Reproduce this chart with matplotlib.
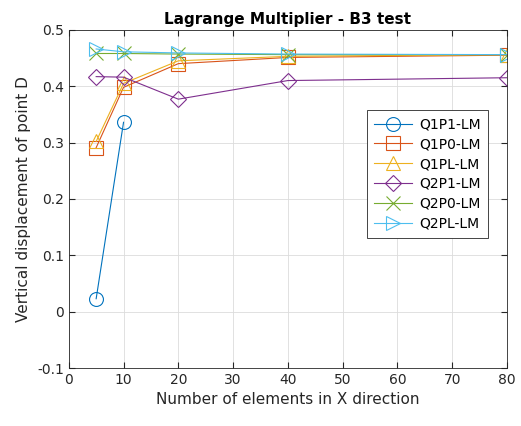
import matplotlib.pyplot as plt

n_elem = [5, 10, 20, 40, 80]
q1p1 = [0.023, 0.336]
q1p0 = [0.291, 0.398, 0.440, 0.451, 0.455]
q1pl = [0.302, 0.405, 0.445, 0.453, 0.456]
q2p1 = [0.417, 0.416, 0.377, 0.410, 0.415]
q2p0 = [0.458, 0.458, 0.457, 0.456, 0.456]
q2pl = [0.466, 0.461, 0.459, 0.457, 0.456]

labels = ["Q1P1-LM", "Q1P0-LM", "Q1PL-LM", "Q2P1-LM", "Q2P0-LM", "Q2PL-LM"]
colors = ["#0072BD", "#D95319", "#EDB120", "#7E2F8E", "#77AC30", "#4DBEEE"]
markers = ["o", "s", "^", "D", "x", ">"]

fig = plt.figure(figsize=(5.21, 4.26), dpi=100)
ax = fig.add_axes([0.132, 0.136, 0.841, 0.794])

series = [q1p1, q1p0, q1pl, q2p1, q2p0, q2pl]
for ys, lab, c, m in zip(series, labels, colors, markers):
    ms = 8 if m == "D" else 10
    ax.plot(n_elem[:len(ys)], ys, marker=m, color=c, label=lab, linewidth=0.8,
            markersize=ms, markerfacecolor="none", markeredgewidth=0.8)

ax.set_xlim(0, 80)
ax.set_ylim(-0.1, 0.5)
ax.set_xticks(range(0, 81, 10))
ax.set_yticks([-0.1, 0, 0.1, 0.2, 0.3, 0.4, 0.5])
ax.set_yticklabels(["-0.1", "0", "0.1", "0.2", "0.3", "0.4", "0.5"])
ax.grid(True, color="#dcdcdc", linewidth=0.6)
ax.set_axisbelow(True)
ax.tick_params(direction="in", length=4, labelsize=10, colors="#262626",
               top=True, right=True)
for s in ax.spines.values():
    s.set_color("#262626")
    s.set_linewidth(0.6)

ax.set_xlabel("Number of elements in X direction", fontsize=11, color="#262626")
ax.set_ylabel("Vertical displacement of point D", fontsize=11, color="#262626")
ax.set_title("Lagrange Multiplier - B3 test", fontsize=11, fontweight="bold", pad=4)

leg = ax.legend(loc="upper right", bbox_to_anchor=(0.95, 0.757),
                bbox_transform=fig.transFigure, fancybox=False, framealpha=1,
                edgecolor="#262626", fontsize=10, handlelength=2.8,
                labelspacing=0.42, borderpad=0.5, handletextpad=0.5)
leg.get_frame().set_linewidth(0.6)

fig.savefig("out.png", dpi=100)
